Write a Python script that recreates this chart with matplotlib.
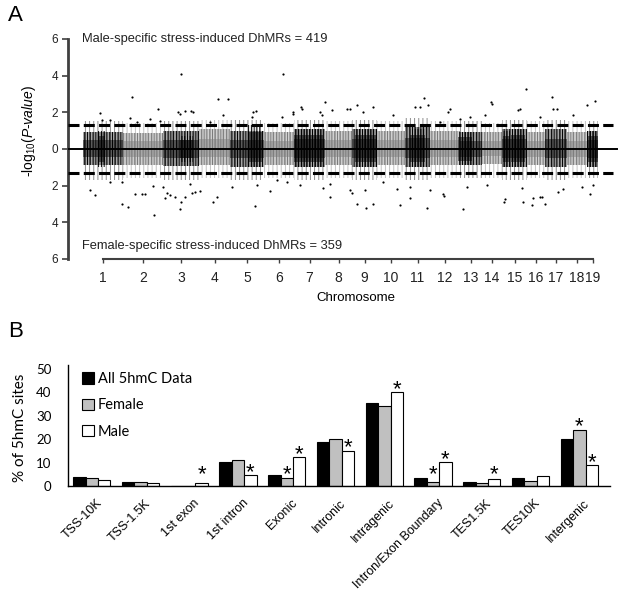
import numpy as np
import matplotlib.pyplot as plt
from matplotlib.transforms import ScaledTranslation

plt.rcParams['font.family'] = ['Liberation Sans', 'DejaVu Sans']
plt.rcParams['mathtext.fontset'] = 'custom'
plt.rcParams['mathtext.rm'] = 'Liberation Sans'
plt.rcParams['mathtext.it'] = 'Liberation Sans:italic'
plt.rcParams['hatch.linewidth'] = 0.7

# ---------------- panel A data ----------------
chrom_names = [str(i) for i in range(1, 20)]
chrom_len = [40, 40, 36, 31, 34, 30, 31, 27, 25, 28, 25, 30, 22, 20, 25, 18, 22, 20, 11]
# extent of the dense point cloud (-log10 p), male side up / female side down
core_up = [0.95, 0.85, 1.0, 1.1, 1.0, 0.9, 1.1, 1.0, 1.1, 1.0, 1.2, 1.0, 0.9, 0.9, 1.1, 0.9, 1.1, 0.9, 1.0]
core_down = [0.9, 0.85, 0.95, 0.9, 1.0, 0.9, 1.0, 0.9, 1.0, 0.9, 1.0, 0.9, 0.9, 0.8, 1.0, 0.9, 1.0, 0.9, 1.0]
band_up = [1.5, 1.4, 1.5, 1.6, 1.6, 1.4, 1.6, 1.5, 1.6, 1.5, 1.7, 1.5, 1.5, 1.4, 1.6, 1.5, 1.6, 1.5, 1.5]
band_down = [1.7, 1.6, 1.7, 1.6, 1.7, 1.6, 1.7, 1.6, 1.7, 1.6, 1.7, 1.6, 1.6, 1.6, 1.7, 1.6, 1.7, 1.6, 1.6]

# darker clusters: genome start, end, up, down
clust_start = [15, 97, 165, 211, 272, 327, 375, 420, 428, 505]
clust_end = [22, 110, 179, 240, 294, 342, 389, 427, 442, 515]
clust_up = [1.0, 0.7, 1.3, 1.1, 1.1, 1.1, 0.9, 1.0, 1.1, 1.0]
clust_down = [1.0, 0.7, 1.0, 1.0, 1.0, 1.0, 0.9, 1.0, 1.0, 1.0]

male_x = [98, 200, 49, 135, 145, 17, 95, 108, 75, 173, 218, 210, 443, 469, 512, 341, 504, 242,
          332, 280, 408, 435, 474, 367, 290, 264, 47, 19, 27, 67, 102, 97, 54, 77,
          110, 140, 169, 170, 219, 199, 210, 239, 127, 274, 237, 249, 310, 337, 345, 365, 357,
          267, 409, 437, 470, 490, 402, 387, 377, 457]
male_y = [4.08, 4.1, 2.85, 2.7, 2.75, 1.95, 2.0, 2.05, 2.2, 2.05, 2.3, 2.0, 3.26, 2.83, 2.6, 2.77, 2.4, 2.55,
          2.3, 2.0, 2.55, 2.1, 2.2, 2.2, 2.3, 2.2, 1.7, 1.6, 1.6, 1.65, 2.05, 1.9, 1.45, 1.55,
          2.0, 1.85, 1.75, 2.0, 2.2, 1.75, 1.9, 1.85, 1.45, 2.4, 2.0, 2.1, 1.85, 2.3, 2.4, 2.0, 1.45,
          2.2, 2.45, 2.2, 2.2, 1.85, 1.85, 1.75, 1.65, 1.75]
female_x = [12, 71, 39, 45, 97, 98, 102, 172, 52, 62, 82, 87, 134, 117, 247, 274, 283, 290, 317, 344,
            380, 421, 440, 449, 462, 457, 361, 507, 475, 7, 80, 84, 27, 109, 92, 59, 70, 107, 39,
            112, 130, 149, 174, 187, 204, 217, 240, 194, 267, 269, 282, 314, 327, 347, 360, 247, 300,
            327, 384, 422, 450, 459, 480, 499, 510, 404, 439]
female_y = [2.5, 3.6, 3.0, 3.15, 3.3, 2.9, 2.6, 3.1, 2.45, 2.45, 2.7, 2.5, 2.6, 2.3, 2.6, 3.0, 3.2, 3.0, 3.05, 3.2,
            3.3, 2.9, 2.9, 3.05, 3.0, 2.6, 2.55, 2.45, 2.35, 2.25, 2.1, 2.4, 1.8, 2.4, 2.6, 2.45, 2.0, 1.9, 1.8,
            2.35, 2.9, 2.05, 1.95, 2.3, 1.8, 1.95, 2.15, 1.7, 2.25, 2.4, 2.25, 2.2, 2.1, 2.25, 2.45, 1.9, 1.8,
            2.7, 2.1, 2.75, 2.7, 2.6, 2.2, 2.05, 1.95, 1.95, 2.15]
n_male, n_female = 419, 359
threshold = 1.3

# ---------------- panel B data ----------------
categories = ['TSS-10K', 'TSS-1.5K', '1st exon', '1st intron', 'Exonic', 'Intronic', 'Intragenic',
              'Intron/Exon Boundary', 'TES1.5K', 'TES10K', 'Intergenic']
all_5hmc = [3.7, 1.6, 0.0, 10.1, 4.7, 18.9, 35.3, 3.6, 1.6, 3.6, 20.0]
female = [3.3, 1.6, 0.0, 11.1, 3.3, 20.1, 34.2, 1.6, 1.1, 2.1, 23.9]
male = [2.5, 1.2, 1.1, 4.7, 12.3, 15.1, 39.9, 10.1, 2.9, 4.3, 8.8]
female_sig = [0, 0, 0, 0, 1, 0, 0, 1, 0, 0, 1]
male_sig = [0, 0, 1, 1, 1, 1, 1, 1, 1, 0, 1]

fig = plt.figure(figsize=(6.24, 5.91), dpi=100)

# ================= panel A =================
ax = fig.add_axes([68 / 624, 1 - 259 / 591, 552 / 624, 220 / 591])
starts = np.concatenate([[0], np.cumsum(chrom_len)[:-1]])
ends = np.cumsum(chrom_len)
centers = (starts + ends) / 2
for i in range(len(chrom_len)):
    col = 'black' if i % 2 == 0 else '#7a7a7a'
    xs = [starts[i], ends[i]]
    # sparse outer part of the cloud
    ax.fill_between(xs, [-band_down[i]] * 2, [band_up[i]] * 2, facecolor='none',
                    edgecolor=col, hatch='||||', linewidth=0, alpha=0.45, zorder=1)
    # denser inner part
    ax.fill_between(xs, [-core_down[i]] * 2, [core_up[i]] * 2, color=col, alpha=0.35,
                    linewidth=0, zorder=2)
    ax.fill_between(xs, [-core_down[i]] * 2, [core_up[i]] * 2, facecolor='none',
                    edgecolor=col, hatch='||||||', linewidth=0, zorder=2)
    ax.fill_between(xs, [-0.5 * core_down[i]] * 2, [0.5 * core_up[i]] * 2, color=col,
                    alpha=0.45, linewidth=0, zorder=2)
for s, e, u, d in zip(clust_start, clust_end, clust_up, clust_down):
    ax.fill_between([s, e], [-d, -d], [u, u], facecolor='none', edgecolor='black',
                    hatch='||||||', linewidth=0, zorder=3)
    ax.fill_between([s, e], [-0.7 * d] * 2, [0.7 * u] * 2, color='black', alpha=0.5,
                    linewidth=0, zorder=3)

ax.scatter(male_x, male_y, s=2.5, color='black', linewidths=0, zorder=4)
ax.scatter(female_x, -np.array(female_y), s=2.5, color='black', linewidths=0, zorder=4)

ax.plot([-15, 534], [0, 0], color='black', lw=1.4, zorder=5)
for yy in (threshold, -threshold):
    ax.plot([-15, 530], [yy, yy], color='black', lw=2.2, ls=(0, (3.6, 1.4)), zorder=5)

ax.set_xlim(-15, 537)
ax.set_ylim(-6, 6)
ax.set_yticks(np.arange(-6, 7, 2))
ax.set_yticklabels([str(abs(v)) for v in range(-6, 7, 2)], fontsize=8.5, color='#222222')
ax.set_xticks(centers)
ax.set_xticklabels(chrom_names, fontsize=10, color='#222222')
ax.spines['top'].set_visible(False)
ax.spines['right'].set_visible(False)
ax.spines['left'].set_linewidth(2)
ax.spines['left'].set_color('#404040')
ax.spines['bottom'].set_linewidth(1.5)
ax.spines['bottom'].set_color('#404040')
ax.spines['bottom'].set_bounds(centers[0], centers[-1])
ax.tick_params(axis='y', length=4, width=1.2, color='#404040', pad=3)
ax.tick_params(axis='x', length=3, width=1, color='#404040', pad=6)
ax.set_ylabel(r'-log$_{10}$($\mathit{P}$-$\mathit{value}$)', fontsize=10)
ax.yaxis.set_label_coords(-0.055, 0.5 + 18 / 220)
ax.set_xlabel('Chromosome', fontsize=9.5)
ax.xaxis.set_label_coords((356 - 68) / 552, -33 / 220)

ax.text(-1, 6, f'Male-specific stress-induced DhMRs = {n_male}', fontsize=9.3,
        va='center', ha='left', color='#222222')
ax.text(-1, -5.27, f'Female-specific stress-induced DhMRs = {n_female}', fontsize=9.3,
        va='center', ha='left', color='#222222')

fig.text(8 / 624, 1 - 5 / 591, 'A', fontsize=16, va='top', ha='left')
fig.text(8 / 624, 1 - 321 / 591, 'B', fontsize=16, va='top', ha='left')

# ================= panel B =================
bx = fig.add_axes([68 / 624, 1 - 486 / 591, 542 / 624, 121 / 591])
x = np.arange(len(categories))
w = 0.256
b1 = bx.bar(x - w, all_5hmc, w, color='black', edgecolor='black', lw=0.8, label='All 5hmC Data')
b2 = bx.bar(x, female, w, color='#c0c0c0', edgecolor='black', lw=0.8, label='Female')
b3 = bx.bar(x + w, male, w, color='white', edgecolor='black', lw=0.8, label='Male')

for i in range(len(categories)):
    for off, val, sig in ((0, female[i], female_sig[i]), (w, male[i], male_sig[i])):
        if sig:
            yc = max(val + 4.3, 8.0)
            bx.text(x[i] + off, yc - 5.5, '*', fontsize=16, ha='center', va='baseline')

bx.set_xlim(-0.487, 10.63)
bx.set_ylim(0, 51.5)
bx.set_yticks(range(0, 51, 10))
bx.set_yticklabels([str(v) for v in range(0, 51, 10)], family=['Lato', 'DejaVu Sans'], fontsize=9.5)
bx.tick_params(axis='y', length=0, pad=12)
bx.set_xticks(x)
bx.set_xticklabels(categories, rotation=45, ha='right', va='top', rotation_mode='anchor', fontsize=9)
bx.tick_params(axis='x', length=0, pad=8)
for lab in bx.get_xticklabels():
    lab.set_transform(lab.get_transform() + ScaledTranslation(4 / 100, 0, fig.dpi_scale_trans))
bx.spines['top'].set_visible(False)
bx.spines['right'].set_visible(False)
bx.spines['left'].set_linewidth(1)
bx.spines['bottom'].set_linewidth(1)
bx.set_ylabel('% of 5hmC sites', family=['Lato', 'DejaVu Sans'], fontsize=11)
bx.yaxis.set_label_coords(-0.075, 0.48)

bx.legend(handles=[b1, b2, b3], loc='upper left', bbox_to_anchor=(0.015, 0.99), frameon=False,
          prop={'family': ['Lato', 'DejaVu Sans'], 'size': 10.5}, handlelength=0.8,
          handleheight=0.8, handletextpad=0.3, labelspacing=0.85, borderaxespad=0)

fig.savefig('out.png', dpi=100)
